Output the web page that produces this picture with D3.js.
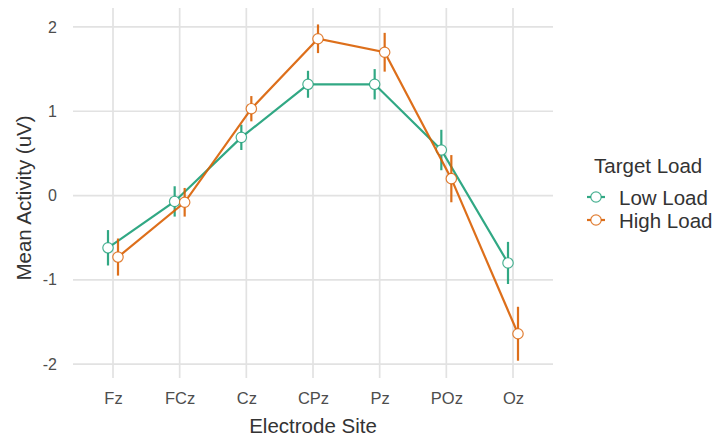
<!DOCTYPE html>
<html>
<head>
<meta charset="utf-8">
<script src="https://cdn.jsdelivr.net/npm/d3@7"></script>
<style>
  body { margin: 0; background: #fff; }
  svg { display: block; font-family: "Liberation Sans", Arial, Helvetica, sans-serif; }
</style>
</head>
<body>
<svg id="chart" width="717" height="441"></svg>
<script>
// Electrode sites along the midline, front to back
const sites = ["Fz", "FCz", "Cz", "CPz", "Pz", "POz", "Oz"];
const loadNames = ["Low Load", "High Load"];

// Mean activity (uV) and standard error per site
const lowMean  = [-0.62, -0.07, 0.69, 1.32, 1.32, 0.54, -0.80];
const lowSE    = [0.21, 0.18, 0.15, 0.16, 0.18, 0.24, 0.25];
const highMean = [-0.73, -0.08, 1.03, 1.86, 1.70, 0.20, -1.64];
const highSE   = [0.22, 0.17, 0.15, 0.17, 0.23, 0.28, 0.32];

const yTicks = [-2, -1, 0, 1, 2];
const colors = ["#1b9e77", "#d95f02"];

const svg = d3.select("#chart");
const panel = { left: 73, right: 553, top: 8, bottom: 378 };

// Discrete sites placed on a continuous index scale so points can be dodged
const x = d3.scaleLinear().domain([-0.6, sites.length - 0.4]).range([panel.left, panel.right]);
const y = d3.scaleLinear().domain([-2.165, 2.225]).range([panel.bottom, panel.top]);
const dodge = [-0.075, 0.075];

const series = [
  { name: loadNames[0], mean: lowMean, se: lowSE, color: colors[0], offset: dodge[0] },
  { name: loadNames[1], mean: highMean, se: highSE, color: colors[1], offset: dodge[1] }
];

// Grid
const grid = svg.append("g").attr("stroke", "#e2e2e2").attr("stroke-width", 1.7);
yTicks.forEach(t => grid.append("line")
  .attr("x1", panel.left).attr("x2", panel.right)
  .attr("y1", y(t)).attr("y2", y(t)));
sites.forEach((s, i) => grid.append("line")
  .attr("x1", x(i)).attr("x2", x(i))
  .attr("y1", panel.top).attr("y2", panel.bottom));

// Axes (text only, no axis lines)
const yAxis = svg.append("g")
  .attr("transform", `translate(${panel.left},0)`)
  .call(d3.axisLeft(y).tickValues(yTicks).tickSize(0).tickPadding(16).tickFormat(d => String(d)));
yAxis.select(".domain").remove();
yAxis.selectAll("text").attr("font-size", 16).attr("fill", "#4d4d4d")
  .attr("font-family", "Liberation Sans, Arial, sans-serif");

const xAxis = svg.append("g")
  .attr("transform", `translate(0,${panel.bottom})`)
  .call(d3.axisBottom(x).tickValues(d3.range(sites.length)).tickSize(0).tickPadding(14)
    .tickFormat(i => sites[i]));
xAxis.select(".domain").remove();
xAxis.selectAll("text").attr("font-size", 16.5).attr("fill", "#4d4d4d")
  .attr("font-family", "Liberation Sans, Arial, sans-serif");

// Axis titles
svg.append("text")
  .attr("x", (panel.left + panel.right) / 2).attr("y", 433)
  .attr("text-anchor", "middle").attr("font-size", 20.5).attr("fill", "#333")
  .text("Electrode Site");
svg.append("text")
  .attr("transform", `translate(31,${(panel.top + panel.bottom) / 2 + 5}) rotate(-90)`)
  .attr("text-anchor", "middle").attr("font-size", 20.5).attr("fill", "#333")
  .text("Mean Activity (uV)");

// Lines, error bars and points
const line = d3.line();
series.forEach(s => {
  const g = svg.append("g");
  g.append("path")
    .attr("d", line(s.mean.map((m, i) => [x(i + s.offset), y(m)])))
    .attr("fill", "none").attr("stroke", s.color).attr("stroke-width", 2.2)
    .attr("stroke-opacity", 0.9);
  g.selectAll("line.err").data(s.mean).join("line")
    .attr("class", "err")
    .attr("x1", (m, i) => x(i + s.offset)).attr("x2", (m, i) => x(i + s.offset))
    .attr("y1", (m, i) => y(m - s.se[i])).attr("y2", (m, i) => y(m + s.se[i]))
    .attr("stroke", s.color).attr("stroke-width", 2.2).attr("stroke-opacity", 0.9);
  g.selectAll("circle").data(s.mean).join("circle")
    .attr("cx", (m, i) => x(i + s.offset)).attr("cy", m => y(m))
    .attr("r", 5.2).attr("fill", "#fff")
    .attr("stroke", s.color).attr("stroke-opacity", 0.8).attr("stroke-width", 1.2);
});

// Legend
const legend = svg.append("g");
legend.append("text").attr("x", 594).attr("y", 173)
  .attr("font-size", 20.5).attr("fill", "#333").text("Target Load");
series.forEach((s, k) => {
  const cy = 197 + k * 23;
  legend.append("line").attr("x1", 587).attr("x2", 605).attr("y1", cy).attr("y2", cy)
    .attr("stroke", s.color).attr("stroke-width", 2.2).attr("stroke-opacity", 0.9);
  legend.append("circle").attr("cx", 596).attr("cy", cy).attr("r", 5.2)
    .attr("fill", "#fff").attr("stroke", s.color).attr("stroke-opacity", 0.8).attr("stroke-width", 1.2);
  legend.append("text").attr("x", 619).attr("y", cy + 8)
    .attr("font-size", 20.5).attr("fill", "#333").text(s.name);
});
</script>
</body>
</html>
